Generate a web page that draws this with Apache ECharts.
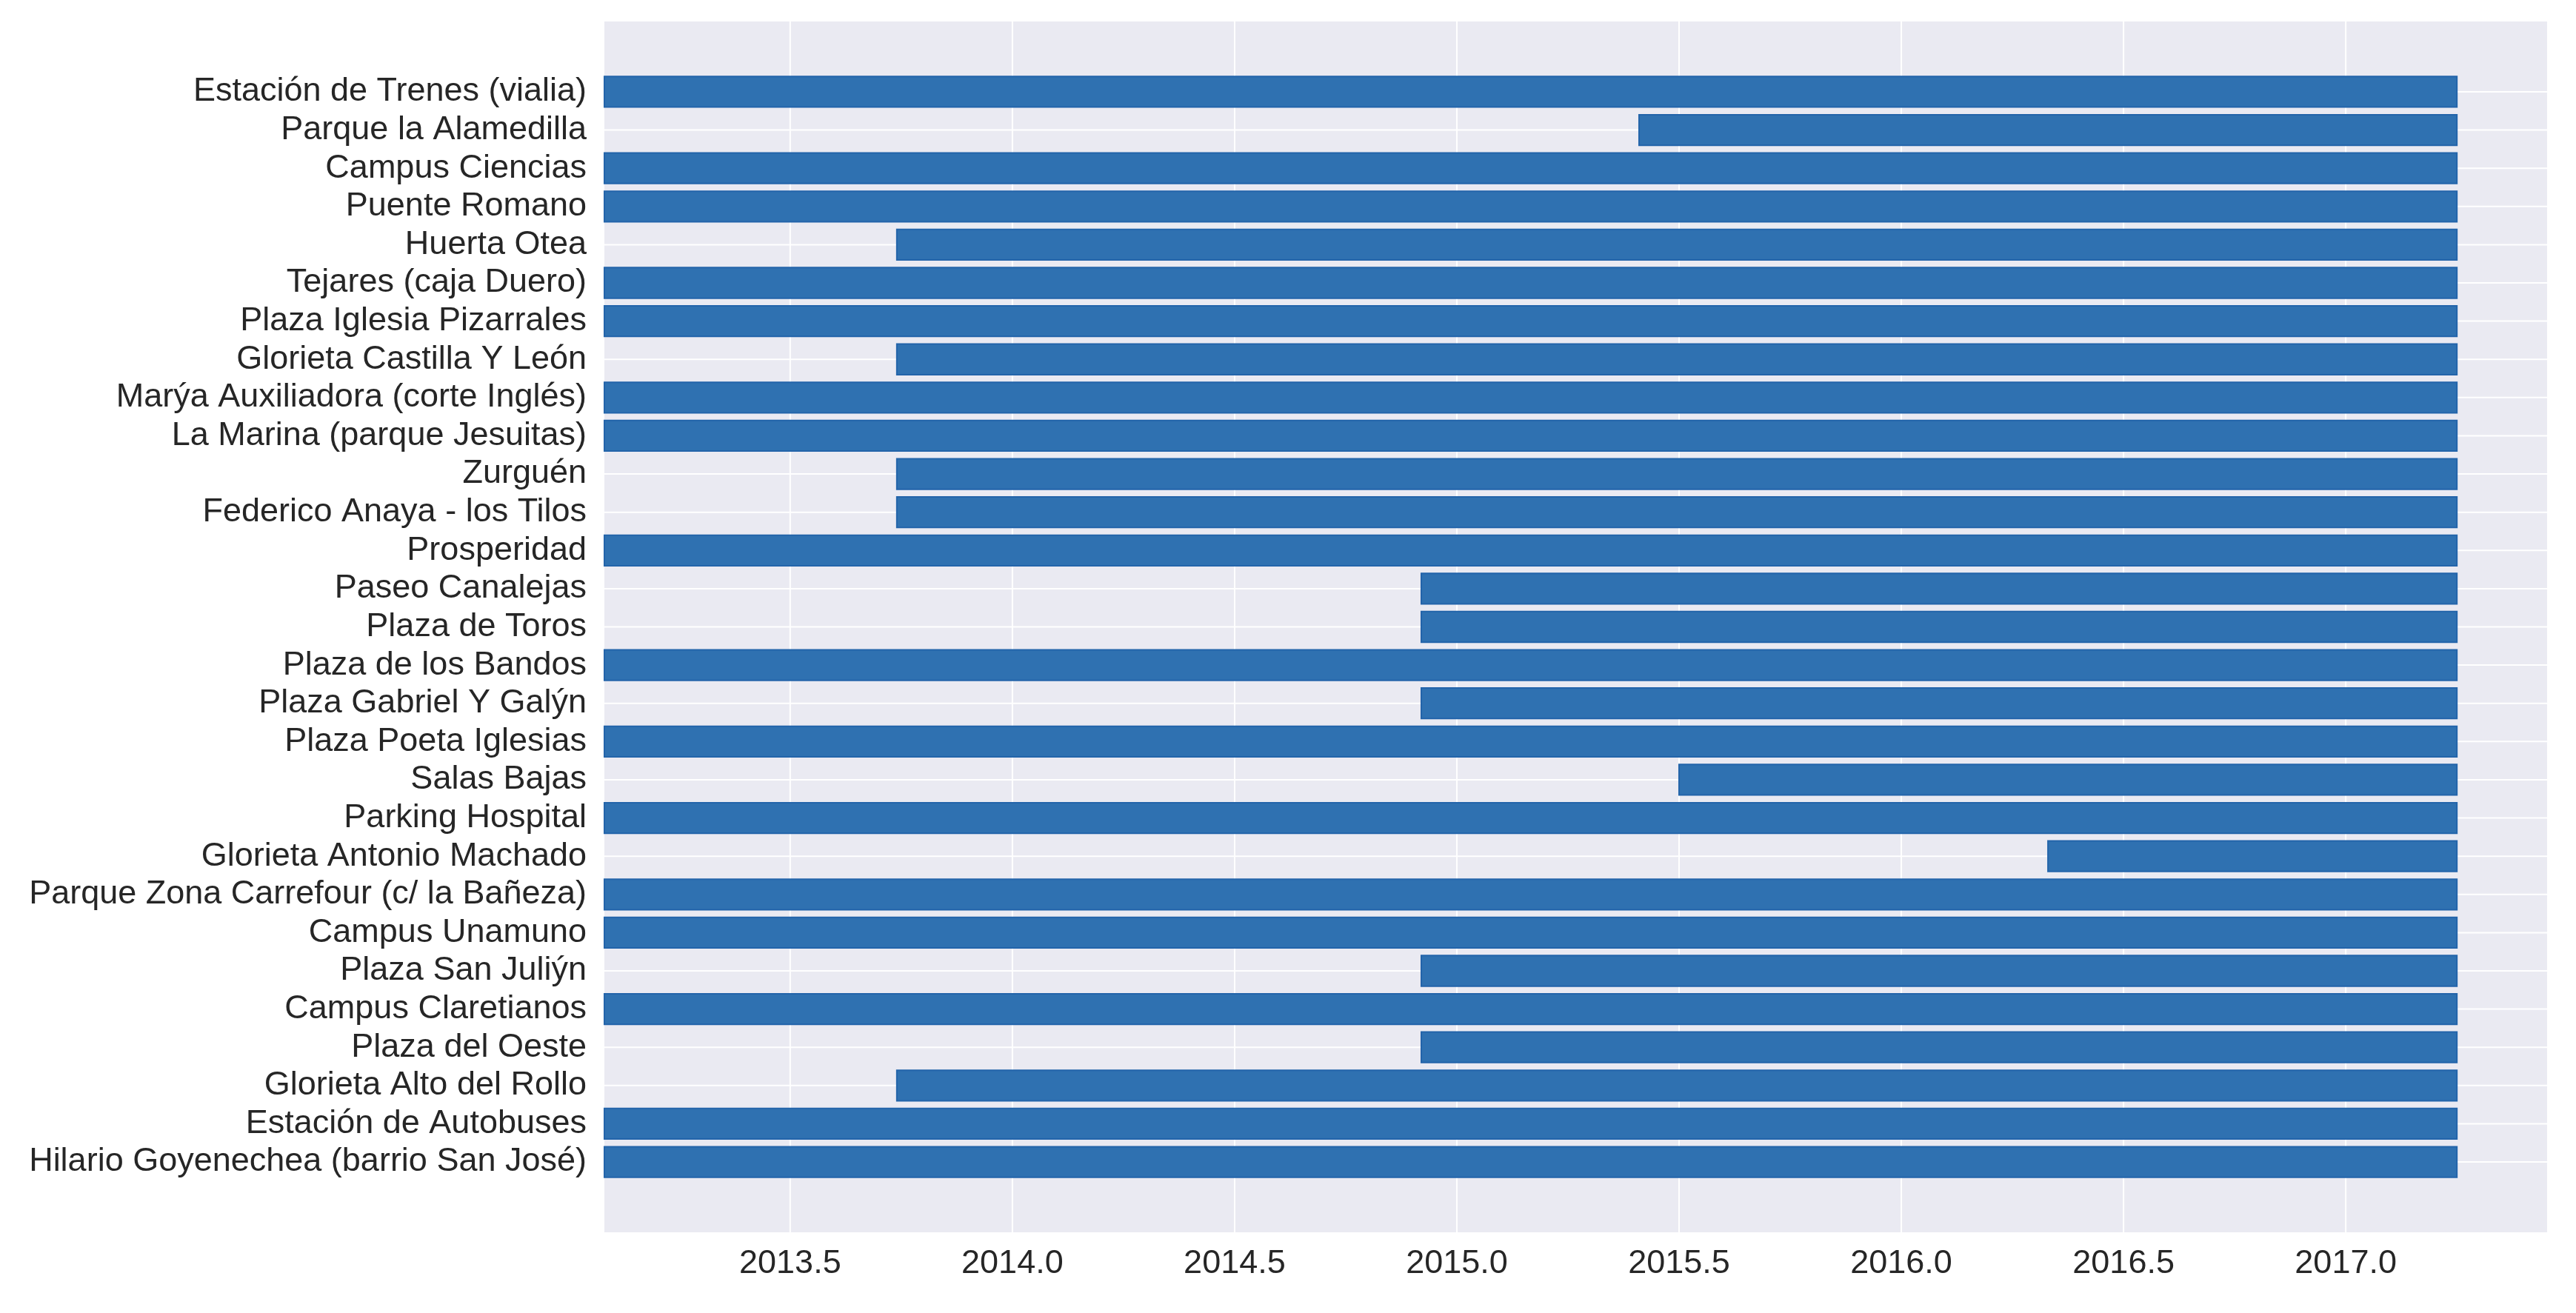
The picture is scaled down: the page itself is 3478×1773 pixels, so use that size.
<!DOCTYPE html>
<html>
<head>
<meta charset="utf-8">
<script src="https://cdn.jsdelivr.net/npm/echarts@6/dist/echarts.min.js"></script>
<style>
html,body{margin:0;padding:0;background:#fff;}
#chart{width:3478px;height:1773px;}
</style>
</head>
<body>
<div id="chart"></div>
<script>
// Categories, top to bottom
var categories = [
  "Estación de Trenes (vialia)",
  "Parque la Alamedilla",
  "Campus Ciencias",
  "Puente Romano",
  "Huerta Otea",
  "Tejares (caja Duero)",
  "Plaza Iglesia Pizarrales",
  "Glorieta Castilla Y León",
  "Marýa Auxiliadora (corte Inglés)",
  "La Marina (parque Jesuitas)",
  "Zurguén",
  "Federico Anaya - los Tilos",
  "Prosperidad",
  "Paseo Canalejas",
  "Plaza de Toros",
  "Plaza de los Bandos",
  "Plaza Gabriel Y Galýn",
  "Plaza Poeta Iglesias",
  "Salas Bajas",
  "Parking Hospital",
  "Glorieta Antonio Machado",
  "Parque Zona Carrefour (c/ la Bañeza)",
  "Campus Unamuno",
  "Plaza San Juliýn",
  "Campus Claretianos",
  "Plaza del Oeste",
  "Glorieta Alto del Rollo",
  "Estación de Autobuses",
  "Hilario Goyenechea (barrio San José)"
];
// Start of each bar (decimal year)
var starts = [
  2013.0, 2015.41, 2013.0, 2013.0, 2013.74, 2013.0, 2013.0, 2013.74,
  2013.0, 2013.0, 2013.74, 2013.74, 2013.0, 2014.92, 2014.92, 2013.0,
  2014.92, 2013.0, 2015.50, 2013.0, 2016.33, 2013.0, 2013.0, 2014.92,
  2013.0, 2014.92, 2013.74, 2013.0, 2013.0
];
// End of each bar (decimal year)
var ends = [
  2017.25, 2017.25, 2017.25, 2017.25, 2017.25, 2017.25, 2017.25, 2017.25,
  2017.25, 2017.25, 2017.25, 2017.25, 2017.25, 2017.25, 2017.25, 2017.25,
  2017.25, 2017.25, 2017.25, 2017.25, 2017.25, 2017.25, 2017.25, 2017.25,
  2017.25, 2017.25, 2017.25, 2017.25, 2017.25
];
// X tick labels
var xTicks = [2013.5, 2014.0, 2014.5, 2015.0, 2015.5, 2016.0, 2016.5, 2017.0];

var data = categories.map(function (c, i) { return [i, starts[i], ends[i]]; });
var yIdx = categories.map(function (c, i) { return i; });

var chart = echarts.init(document.getElementById('chart'));
var FONT = '"Liberation Sans", Arial, sans-serif';
var XMIN = 2013.082, XMAX = 2017.453;

chart.setOption({
  animation: false,
  backgroundColor: '#ffffff',
  grid: {
    left: 816, right: 39, top: 29, bottom: 109,
    show: true, backgroundColor: '#EAEAF2', borderWidth: 0
  },
  xAxis: {
    type: 'value', min: XMIN, max: XMAX,
    axisLine: { show: false },
    axisTick: { show: false, customValues: xTicks },
    splitLine: { show: false },
    axisLabel: {
      margin: 20, color: '#262626', fontFamily: FONT, fontSize: 45,
      customValues: xTicks,
      formatter: function (v) { return Number(v).toFixed(1); }
    }
  },
  yAxis: {
    type: 'value', inverse: true, min: -1.84, max: 29.84,
    axisLine: { show: false },
    axisTick: { show: false, customValues: yIdx },
    splitLine: { show: false },
    axisLabel: {
      margin: 24, color: '#262626', fontFamily: FONT, fontSize: 45,
      customValues: yIdx,
      formatter: function (v) {
        var r = Math.round(v);
        return categories[r] !== undefined ? categories[r] : '';
      }
    }
  },
  series: [{
    // vertical grid lines at the x tick values
    type: 'custom',
    data: xTicks.map(function (t) { return [t]; }),
    encode: { x: 0 },
    silent: true,
    z: 1,
    renderItem: function (params, api) {
      var cs = params.coordSys;
      var p = api.coord([api.value(0), 0]);
      return {
        type: 'line',
        shape: { x1: p[0], y1: cs.y, x2: p[0], y2: cs.y + cs.height },
        style: { stroke: '#ffffff', lineWidth: 2 }
      };
    }
  }, {
    type: 'custom',
    encode: { x: [1, 2], y: 0 },
    data: data,
    z: 2,
    renderItem: function (params, api) {
      var y = api.value(0), s = api.value(1), e = api.value(2);
      var cs = params.coordSys;
      var pl = api.coord([s, y]), pr = api.coord([e, y]);
      var h = api.size([0, 0.8])[1];
      var rect = echarts.graphic.clipRectByRect(
        { x: pl[0], y: pl[1] - h / 2, width: pr[0] - pl[0], height: h },
        { x: cs.x, y: cs.y, width: cs.width, height: cs.height }
      );
      var children = [{
        type: 'line',
        shape: { x1: cs.x, y1: pl[1], x2: cs.x + cs.width, y2: pl[1] },
        style: { stroke: '#ffffff', lineWidth: 2 }
      }];
      if (rect) {
        children.push({
          type: 'rect', shape: rect,
          style: { fill: '#2F71B1', stroke: '#2364AA', lineWidth: 2 }
        });
      }
      return { type: 'group', children: children };
    }
  }]
});
</script>
</body>
</html>
